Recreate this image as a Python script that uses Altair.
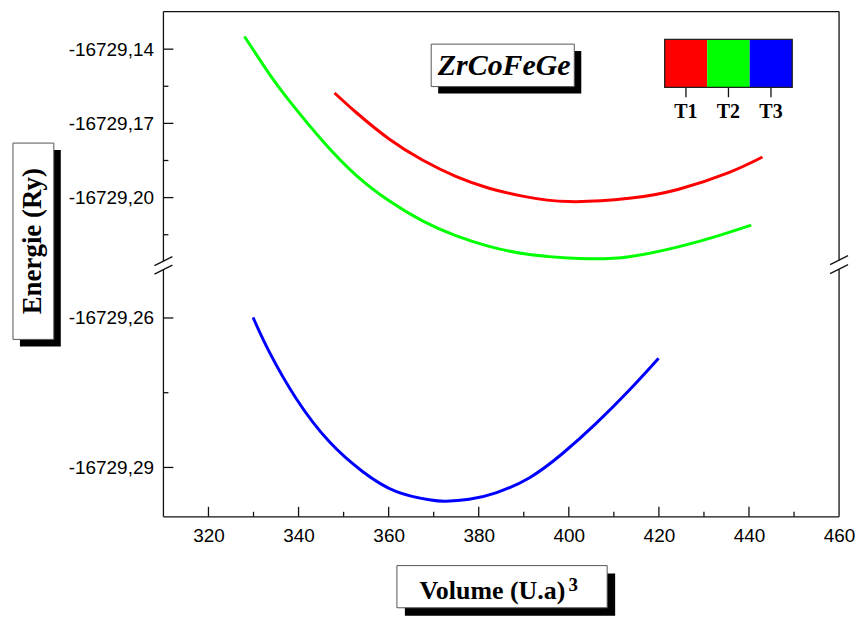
import altair as alt
import pandas as pd

# ---- data ----
SERIES = ["T1", "T2", "T3"]
COLORS = ["#FF0000", "#00FF00", "#0000FF"]

T1_V = [348.0, 352.8, 360.1, 367.5, 374.9, 382.3, 390.0, 400.0, 413.4, 424.4, 435.5, 443.0]
T1_E = [-16729.1577, -16729.1656, -16729.1763, -16729.1848, -16729.1914, -16729.1962,
        -16729.1995, -16729.2016, -16729.2003, -16729.1966, -16729.1899, -16729.1836]

T2_V = [328.0, 333.5, 338.0, 345.4, 352.8, 360.1, 367.5, 374.9, 382.3, 391.2, 402.3, 413.4,
        428.1, 440.5]
T2_E = [-16729.1349, -16729.1500, -16729.1610, -16729.1772, -16729.1910, -16729.2013,
        -16729.2094, -16729.2154, -16729.2197, -16729.2230, -16729.2246, -16729.2239,
        -16729.2181, -16729.2111]

T3_V = [329.9, 333.5, 339.5, 346.8, 354.2, 361.6, 369.0, 372.7, 377.9, 383.8, 391.2, 398.6,
        406.0, 413.4, 419.9]
T3_E = [-16729.2599, -16729.2668, -16729.2762, -16729.2848, -16729.2908, -16729.2948,
        -16729.2965, -16729.2968, -16729.2964, -16729.2951, -16729.2921, -16729.2872,
        -16729.2812, -16729.2745, -16729.2681]

X_MAJOR = [320, 340, 360, 380, 400, 420, 440]
X_MINOR = [330, 350, 370, 390, 410, 430, 450]
X_LABELS = [320, 340, 360, 380, 400, 420, 440, 460]
YUP_MAJOR = [-16729.14, -16729.17, -16729.20]
YUP_MINOR = [-16729.155, -16729.185, -16729.215]
YLO_MAJOR = [-16729.26, -16729.29]
YLO_MINOR = [-16729.275]

X_DOMAIN = [310, 460]
YUP_DOMAIN = [-16729.2271, -16729.1248]
YLO_DOMAIN = [-16729.2999, -16729.2493]

TITLE = "ZrCoFeGe"
Y_TITLE = "Energie (Ry)"
X_TITLE = "Volume (U.a)"
X_TITLE_SUP = "3"

# ---- layout constants ----
W = 678
H_UP = 254
H_LO = 253
FRAME = "#111111"
SERIF = "Liberation Serif"
SANS = "Liberation Sans"

def frame_df():
    return pd.DataFrame({"a": [0]})

df_up = pd.concat([
    pd.DataFrame({"V": T1_V, "E": T1_E, "series": "T1"}),
    pd.DataFrame({"V": T2_V, "E": T2_E, "series": "T2"}),
])
df_lo = pd.DataFrame({"V": T3_V, "E": T3_E, "series": "T3"})
df_leg = pd.DataFrame({"series": SERIES})

x_scale = alt.Scale(domain=X_DOMAIN, nice=False, zero=False)
yup_scale = alt.Scale(domain=YUP_DOMAIN, nice=False, zero=False)
ylo_scale = alt.Scale(domain=YLO_DOMAIN, nice=False, zero=False)
color_scale = alt.Scale(domain=SERIES, range=COLORS)
band_scale = alt.Scale(domain=SERIES, range=[503, 631], paddingInner=0, paddingOuter=0)

label_expr = "'-' + replace(format(abs(datum.value), '.2f'), '.', ',')"

def y_axis(values):
    return alt.Axis(values=values, labelExpr=label_expr, ticks=False, domain=False, grid=False,
                    labelFont=SANS, labelFontSize=19, labelColor="black", labelPadding=10,
                    title=None)

yup_axis = y_axis(YUP_MAJOR)
ylo_axis = y_axis(YLO_MAJOR)
x_axis = alt.Axis(values=X_LABELS, format="d", ticks=False, domain=False, grid=False,
                  labelFont=SANS, labelFontSize=19, labelColor="black", labelPadding=10,
                  title=None, labelFlush=False)

def rule(x, y, x2=None, y2=None, width=1.3):
    enc = {"x": alt.value(x), "y": alt.value(y)}
    if x2 is not None:
        enc["x2"] = alt.value(x2)
    if y2 is not None:
        enc["y2"] = alt.value(y2)
    return alt.Chart(frame_df()).mark_rule(color=FRAME, strokeWidth=width).encode(**enc)

def box(x, y, x2, y2, dx=7, dy=7):
    shadow = alt.Chart(frame_df()).mark_rect(color="black").encode(
        x=alt.value(x + dx), x2=alt.value(x2 + dx), y=alt.value(y + dy), y2=alt.value(y2 + dy))
    white = alt.Chart(frame_df()).mark_rect(fill="white", stroke="#555555", strokeWidth=1).encode(
        x=alt.value(x), x2=alt.value(x2), y=alt.value(y), y2=alt.value(y2))
    return [shadow, white]

# ---------------- upper panel ----------------
lines_up = alt.Chart(df_up).mark_line(strokeWidth=3, interpolate="natural").encode(
    x=alt.X("V:Q", scale=x_scale, axis=None),
    y=alt.Y("E:Q", scale=yup_scale, axis=yup_axis),
    color=alt.Color("series:N", scale=color_scale, legend=None),
)
yticks_up_major = alt.Chart(pd.DataFrame({"v": YUP_MAJOR})).mark_rule(color=FRAME, strokeWidth=1.3).encode(
    y=alt.Y("v:Q", scale=yup_scale, axis=yup_axis), x=alt.value(0), x2=alt.value(10))
yticks_up_minor = alt.Chart(pd.DataFrame({"v": YUP_MINOR})).mark_rule(color=FRAME, strokeWidth=1.3).encode(
    y=alt.Y("v:Q", scale=yup_scale, axis=yup_axis), x=alt.value(0), x2=alt.value(5))

leg_rect = alt.Chart(df_leg).mark_rect().encode(
    x=alt.X("series:N", scale=band_scale, axis=None),
    y=alt.value(28), y2=alt.value(76),
    color=alt.Color("series:N", scale=color_scale, legend=None),
)
leg_outline = alt.Chart(frame_df()).mark_rect(fillOpacity=0, stroke="#222222", strokeWidth=1.3).encode(
    x=alt.value(503), x2=alt.value(631), y=alt.value(28), y2=alt.value(76))
leg_ticks = alt.Chart(df_leg).mark_rule(color=FRAME, strokeWidth=1.3).encode(
    x=alt.X("series:N", scale=band_scale, axis=None), y=alt.value(76), y2=alt.value(86))
leg_text = alt.Chart(df_leg).mark_text(font=SERIF, fontWeight="bold", fontSize=20,
                                        baseline="alphabetic", color="black").encode(
    x=alt.X("series:N", scale=band_scale, axis=None), y=alt.value(107), text="series:N")

title_text = alt.Chart(pd.DataFrame({"t": [TITLE]})).mark_text(
    font=SERIF, fontWeight="bold", fontStyle="italic", fontSize=30, baseline="alphabetic",
    align="center", color="black").encode(x=alt.value(342), y=alt.value(64), text="t:N")

ytitle_text = alt.Chart(pd.DataFrame({"t": [Y_TITLE]})).mark_text(
    font=SERIF, fontWeight="bold", fontSize=27, baseline="middle", align="center",
    angle=270, color="black").encode(x=alt.value(-130.5), y=alt.value(230.5), text="t:N")

upper_layers = (
    [lines_up, yticks_up_major, yticks_up_minor]
    + box(268.7, 32.7, 412.3, 75.3)
    + [title_text]
    + box(-151, 132, -110, 329)
    + [ytitle_text]
    + [leg_rect, leg_outline, leg_ticks, leg_text]
    + [
        rule(0, 0, x2=W),               # top frame
        rule(0, 0, y2=250.5),           # left frame (upper part)
        rule(W, 0, y2=249.5),           # right frame (upper part)
        rule(-9, 255, x2=9, y2=246),    # left break marks
        rule(-9, 263.5, x2=9, y2=254.5),
        rule(W - 9, 254, x2=W + 9, y2=245),  # right break marks
        rule(W - 9, 263, x2=W + 9, y2=254),
    ]
)
upper = alt.layer(*upper_layers).resolve_scale(x="independent").properties(width=W, height=H_UP)

# ---------------- lower panel ----------------
line_lo = alt.Chart(df_lo).mark_line(strokeWidth=3, interpolate="natural").encode(
    x=alt.X("V:Q", scale=x_scale, axis=x_axis),
    y=alt.Y("E:Q", scale=ylo_scale, axis=ylo_axis),
    color=alt.Color("series:N", scale=color_scale, legend=None),
)
yticks_lo_major = alt.Chart(pd.DataFrame({"v": YLO_MAJOR})).mark_rule(color=FRAME, strokeWidth=1.3).encode(
    y=alt.Y("v:Q", scale=ylo_scale, axis=ylo_axis), x=alt.value(0), x2=alt.value(10))
yticks_lo_minor = alt.Chart(pd.DataFrame({"v": YLO_MINOR})).mark_rule(color=FRAME, strokeWidth=1.3).encode(
    y=alt.Y("v:Q", scale=ylo_scale, axis=ylo_axis), x=alt.value(0), x2=alt.value(5))
xticks_major = alt.Chart(pd.DataFrame({"v": X_MAJOR})).mark_rule(color=FRAME, strokeWidth=1.3).encode(
    x=alt.X("v:Q", scale=x_scale, axis=x_axis), y=alt.value(H_LO - 10), y2=alt.value(H_LO))
xticks_minor = alt.Chart(pd.DataFrame({"v": X_MINOR})).mark_rule(color=FRAME, strokeWidth=1.3).encode(
    x=alt.X("v:Q", scale=x_scale, axis=x_axis), y=alt.value(H_LO - 5), y2=alt.value(H_LO))

xtitle_text = alt.Chart(pd.DataFrame({"t": [X_TITLE]})).mark_text(
    font=SERIF, fontWeight="bold", fontSize=26, baseline="alphabetic", align="left",
    color="black").encode(x=alt.value(257), y=alt.value(335.5), text="t:N")
xtitle_sup = alt.Chart(pd.DataFrame({"t": [X_TITLE_SUP]})).mark_text(
    font=SERIF, fontWeight="bold", fontSize=19, baseline="alphabetic", align="left",
    color="black").encode(x=alt.value(406.5), y=alt.value(327.5), text="t:N")

lower_layers = (
    [line_lo, yticks_lo_major, yticks_lo_minor, xticks_major, xticks_minor]
    + box(234.3, 302, 445.3, 344.3, dx=8, dy=8)
    + [xtitle_text, xtitle_sup]
    + [
        rule(0, H_LO, x2=W),            # bottom frame
        rule(0, 5, y2=H_LO),            # left frame (lower part)
        rule(W, 4.5, y2=H_LO),          # right frame (lower part)
    ]
)
lower = alt.layer(*lower_layers).properties(width=W, height=H_LO)

chart = alt.vconcat(upper, lower, spacing=0, bounds="flush").configure_view(
    stroke=None
).properties(
    padding={"left": 12, "top": 9.5, "right": 5, "bottom": 5},
    background="white",
)

chart.save("out.html", embed_options={"renderer": "svg", "actions": False})
